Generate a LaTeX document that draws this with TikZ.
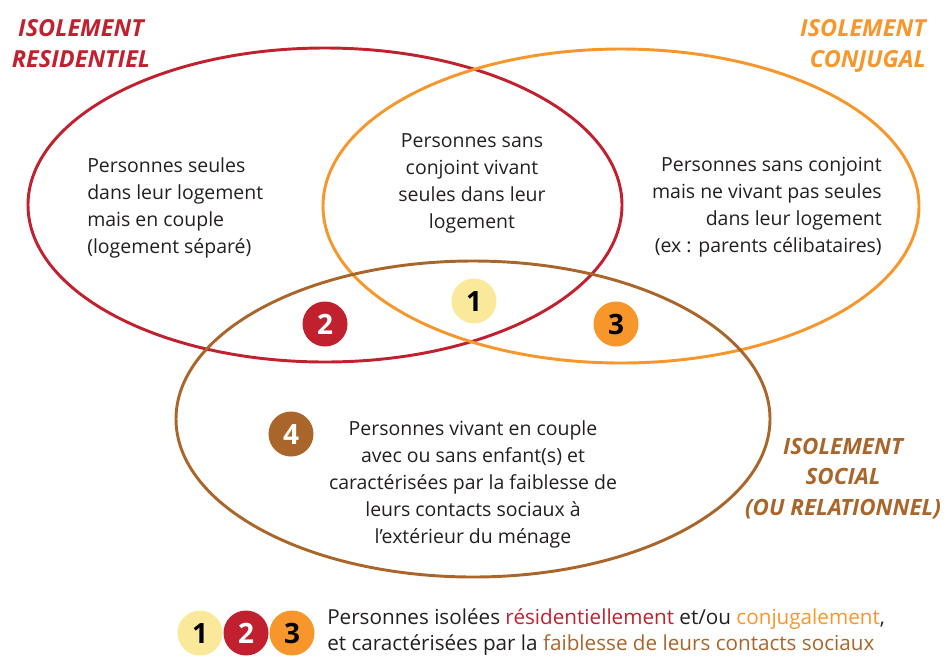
\documentclass[tikz,border=0pt]{standalone}
\usepackage{fontspec}
\setmainfont{Open Sans}
\usepackage{xcolor}
\usetikzlibrary{positioning}
\definecolor{Resid}{HTML}{C1202F}
\definecolor{Conj}{HTML}{F7962B}
\definecolor{Social}{HTML}{A9652A}
\definecolor{Pale}{HTML}{FBE99B}
\definecolor{Ink}{HTML}{231F20}
\tikzset{
  zone/.style={line width=2.2pt},
  title/.style={font=\fontsize{17.6}{22.8}\selectfont\bfseries\itshape,inner sep=0pt},
  txt/.style={font=\fontsize{14.6}{20.25}\selectfont,text=Ink,inner sep=0pt},
  legend/.style={font=\fontsize{15.5}{19.5}\selectfont,text=Ink,inner sep=0pt},
  num/.style={circle,minimum size=33.75pt,inner sep=0pt,font=\fontsize{21}{21}\selectfont\bfseries}
}

\begin{document}
\begin{tikzpicture}[x=0.75pt,y=-0.75pt]
  \useasboundingbox (0,0) rectangle (944,657);
  % the three circles of isolation
  \draw[zone,Resid] (325,205) ellipse [x radius=297,y radius=157];
  \draw[zone,Conj] (621,206) ellipse [x radius=298,y radius=157];
  \draw[zone,Social] (473,419) ellipse [x radius=297,y radius=158];
  % titles (base = last line)
  \node[title,text=Resid,align=center,anchor=base] (tRes) at (81,67) {ISOLEMENT\\RESIDENTIEL};
  \node[title,text=Conj,align=right,anchor=base east] (tConj) at (926,67) {ISOLEMENT\\CONJUGAL};
  \node[title,font=\fontsize{16.8}{22.8}\selectfont\bfseries\itshape,text=Social,align=center,anchor=base] (tSoc) at (843,515) {ISOLEMENT\\SOCIAL\\(OU RELATIONNEL)};
  % zone texts
  \node[txt,align=left,anchor=base west] (resTxt) at (87,253) {Personnes seules\\dans leur logement\\mais en couple\\(logement séparé)};
  \node[txt,align=center,anchor=base] (midTxt) at (472,228) {Personnes sans\\conjoint vivant\\seules dans leur\\logement};
  \node[txt,align=right,anchor=base east] (conjTxt) at (882,252) {Personnes sans conjoint\\mais ne vivant pas seules\\dans leur logement\\(ex : parents célibataires)};
  \node[txt,align=center,anchor=base] (socTxt) at (473,543) {Personnes vivant en couple\\avec ou sans enfant(s) et\\caractérisées par la faiblesse de\\leurs contacts sociaux à\\l’extérieur du ménage};
  % numbers
  \node[num,fill=Pale,text=black] (n1) at (474,301) {1};
  \node[num,fill=Resid,text=white] (n2) at (325,324) {2};
  \node[num,fill=Conj,text=black] (n3) at (616,324) {3};
  \node[num,fill=Social,text=white] (n4) at (291,434) {4};
  % legend
  \node[num,fill=Pale,text=black] (l1) at (200,633) {1};
  \node[num,fill=Resid,text=white] (l2) at (246,633) {2};
  \node[num,fill=Conj,text=black] (l3) at (292,633) {3};
  \node[legend,align=left,anchor=base west] (legTxt) at (327,650) {Personnes isolées \textcolor{Resid}{résidentiellement} et/ou \textcolor{Conj}{conjugalement},\\et caractérisées par la \textcolor{Social}{faiblesse de leurs contacts sociaux}};
\end{tikzpicture}
\end{document}
